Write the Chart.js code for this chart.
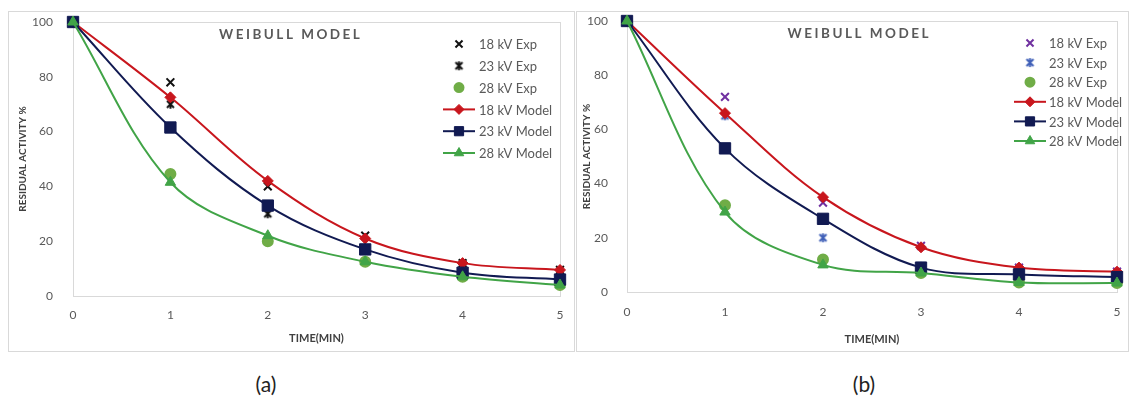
<!DOCTYPE html>
<html>
<head>
<meta charset="utf-8">
<script src="https://cdn.jsdelivr.net/npm/chart.js@4.4.1/dist/chart.umd.min.js"></script>
<style>
body { margin:0; background:#fff; width:1131px; height:408px; position:relative; overflow:hidden; font-family:Lato, sans-serif; }
.panel { position:absolute; border:1px solid #d9d9d9; background:#fff; }
.panel canvas { display:block; }
#panelA { left:8px; top:11px; width:565px; height:339px; }
#panelB { left:576px; top:11px; width:551px; height:339px; }
.cap { position:absolute; top:371px; font-size:21px; color:#222; width:60px; text-align:center; }
</style>
</head>
<body>
<div class="panel" id="panelA"><canvas id="chartA" width="565" height="339"></canvas></div>
<div class="panel" id="panelB"><canvas id="chartB" width="551" height="339"></canvas></div>
<div class="cap" style="left:236px">(a)</div>
<div class="cap" style="left:834px">(b)</div>
<script>
const times = [0, 1, 2, 3, 4, 5];
const yTicks = [0, 20, 40, 60, 80, 100];
const names = ['18 kV Exp', '23 kV Exp', '28 kV Exp', '18 kV Model', '23 kV Model', '28 kV Model'];

// (a)
const expA18 = [100, 78, 40, 22, 12, 9.5];
const expA23 = [100, 70, 30, 17, 8.5, 6];
const expA28 = [100, 44.5, 20, 12.5, 7, 4];
const modA18 = [100, 72.5, 42, 21, 12, 9.5];
const modA23 = [100, 61.5, 33, 17, 8.5, 6];
const modA28 = [100, 41.5, 22, 12.5, 7, 4];

// (b)
const expB18 = [100, 72, 33, 17, 9, 7.5];
const expB23 = [100, 65, 20, 9.5, 6.5, 5.5];
const expB28 = [100, 32, 12, 7, 3.5, 3.3];
const modB18 = [100, 66, 35, 16.5, 9, 7.5];
const modB23 = [100, 53, 27, 9, 6.5, 5.5];
const modB28 = [100, 29.5, 10, 7, 3.5, 3.3];

const RED = '#c8161d', NAVY = '#111a52', GREEN = '#41a447', DOT = '#70ad47';

// excel style asterisk marker
function starMark(color) {
  const c = document.createElement('canvas');
  c.width = 11; c.height = 11;
  const g = c.getContext('2d');
  g.strokeStyle = color; g.lineWidth = 2;
  g.beginPath();
  g.moveTo(2, 2); g.lineTo(9, 9);
  g.moveTo(9, 2); g.lineTo(2, 9);
  g.moveTo(5.5, 1); g.lineTo(5.5, 10);
  g.stroke();
  return c;
}

function makeSets(e18, e23, e28, m18, m23, m28, c18, c23) {
  const exp = (name, data, style, col, r, ord) => ({
    label: name, data: data, showLine: false, clip: false, order: ord,
    pointStyle: style, pointRadius: r, pointBorderWidth: 2,
    pointBackgroundColor: col, pointBorderColor: col, borderColor: col, backgroundColor: col
  });
  const mod = (name, data, style, col, r, ord) => ({
    label: name, data: data, clip: false, order: ord, fill: false,
    borderColor: col, backgroundColor: col, borderWidth: 2, tension: 0.35,
    pointStyle: style, pointRadius: r, pointBorderWidth: 1,
    pointBackgroundColor: col, pointBorderColor: col
  });
  return [
    exp(names[0], e18, 'crossRot', c18, 5.5, 6),
    exp(names[1], e23, starMark(c23), c23, 5, 5),
    exp(names[2], e28, 'circle', DOT, 5, 4),
    mod(names[3], m18, 'rectRot', RED, 5.5, 3),
    mod(names[4], m23, 'rect', NAVY, 8, 2),
    mod(names[5], m28, 'triangle', GREEN, 6, 1)
  ];
}

const weibullDeco = {
  id: 'weibullDeco',
  beforeDatasetsDraw(chart) {
    const {ctx, chartArea: a} = chart;
    ctx.save();
    ctx.strokeStyle = '#d9d9d9';
    ctx.lineWidth = 1;
    ctx.strokeRect(Math.round(a.left) + 0.5, Math.round(a.top) + 0.5, Math.round(a.right - a.left), Math.round(a.bottom - a.top));
    ctx.restore();
  },
  afterDraw(chart, args, opts) {
    const {ctx, chartArea: a} = chart;
    ctx.save();
    ctx.fillStyle = '#595959';
    ctx.font = 'bold 13.5px Lato';
    ctx.letterSpacing = '2.5px';
    ctx.textAlign = 'center';
    ctx.textBaseline = 'middle';
    ctx.fillText('WEIBULL MODEL', a.left + a.width * opts.headX, a.top + opts.headY);
    ctx.letterSpacing = '0px';
    ctx.font = '13px Lato';
    ctx.textAlign = 'left';
    chart.data.datasets.forEach((ds, i) => {
      const y = a.top + opts.legY + i * opts.legGap;
      const x = a.right - opts.legX;
      if (ds.showLine !== false) {
        ctx.strokeStyle = ds.borderColor;
        ctx.lineWidth = 2;
        ctx.beginPath();
        ctx.moveTo(x - 16, y);
        ctx.lineTo(x + 16, y);
        ctx.stroke();
      }
      ctx.fillStyle = ds.pointBackgroundColor;
      ctx.strokeStyle = ds.pointBorderColor;
      ctx.lineWidth = ds.pointBorderWidth;
      const r = ds.pointStyle === 'rect' ? 6.5 : (ds.pointStyle === 'circle' ? 4.5 : ds.pointRadius - 0.5);
      Chart.helpers.drawPoint(ctx, {pointStyle: ds.pointStyle, radius: r, rotation: 0, borderWidth: ds.pointBorderWidth}, x, y);
      ctx.fillStyle = '#595959';
      ctx.fillText(ds.label, x + opts.textDx, y + 1);
    });
    ctx.restore();
  }
};

function buildChart(id, sets, deco, pad, yW, xH, xPad, yPad) {
  return new Chart(document.getElementById(id), {
    type: 'line',
    data: { labels: times, datasets: sets },
    options: {
      responsive: false,
      animation: false,
      layout: { padding: pad },
      plugins: { legend: { display: false }, tooltip: { enabled: false }, weibullDeco: deco },
      scales: {
        x: {
          grid: { display: false }, border: { display: false },
          ticks: { color: '#595959', font: { family: 'Lato', size: 12 }, padding: xPad, maxRotation: 0 },
          title: { display: true, text: 'TIME(MIN)', color: '#404040', padding: 0, font: { family: 'Lato', size: 11, weight: 'bold' } },
          afterFit(s) { s.height = xH; s.paddingLeft = 0; s.paddingRight = 0; }
        },
        y: {
          min: 0, max: 100,
          grid: { display: false }, border: { display: false },
          afterBuildTicks(s) { s.ticks = yTicks.map(v => ({ value: v })); },
          ticks: { color: '#595959', font: { family: 'Lato', size: 12 }, padding: yPad },
          title: { display: true, text: 'RESIDUAL ACTIVITY %', color: '#404040', padding: 0, font: { family: 'Lato', size: 10, weight: 'bold' } },
          afterFit(s) { s.width = yW; s.paddingTop = 0; s.paddingBottom = 0; }
        }
      }
    },
    plugins: [weibullDeco]
  });
}

buildChart('chartA',
  makeSets(expA18, expA23, expA28, modA18, modA23, modA28, '#111111', '#111111'),
  { headX: 0.447, headY: 13, legX: 101, legY: 22, legGap: 21.8, textDx: 20 },
  { left: 8, right: 14, top: 10, bottom: 6 }, 56, 49, 4, 12);

buildChart('chartB',
  makeSets(expB18, expB23, expB28, modB18, modB23, modB28, '#7030a0', '#4060b8'),
  { headX: 0.474, headY: 13, legX: 87, legY: 22, legGap: 19.6, textDx: 19 },
  { left: 4, right: 11, top: 8, bottom: 5 }, 46, 54, 5, 11);
</script>
</body>
</html>
